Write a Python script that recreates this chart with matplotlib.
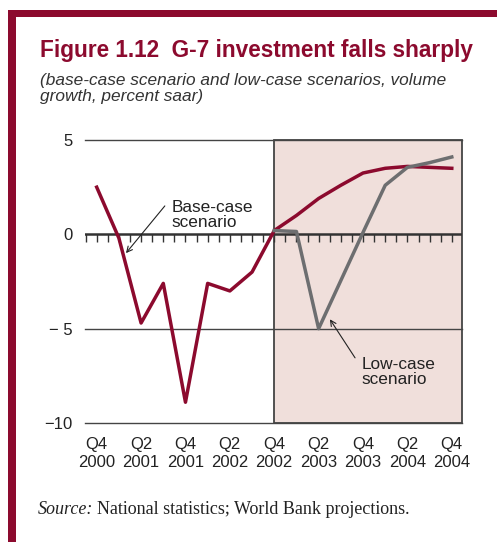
import matplotlib
matplotlib.use("Agg")
import matplotlib.pyplot as plt
from matplotlib.patches import Rectangle

# données (indice trimestriel, 0 = T4 2000)
quarters = list(range(17))
base_case = [2.5, -0.2, -4.7, -2.6, -8.9, -2.6, -3.0, -2.0, 0.2,
             1.0, 1.9, 2.6, 3.25, 3.5, 3.6, 3.55, 3.5]
low_quarters = list(range(8, 17))
low_case = [0.2, 0.15, -5.0, -2.45, 0.1, 2.6, 3.55, 3.8, 4.1]
tick_labels = ["Q4\n2000", "Q2\n2001", "Q4\n2001", "Q2\n2002", "Q4\n2002",
               "Q2\n2003", "Q4\n2003", "Q2\n2004", "Q4\n2004"]
yticks = [5, 0, -5, -10]

rouge = "#8c0a2e"
gris = "#6d6e70"
fond = "#f0dfdb"
W, H = 497, 542

plt.rcParams['font.family'] = ['Liberation Sans', 'DejaVu Sans']

fig = plt.figure(figsize=(W / 100, H / 100), dpi=100)

# cadre rouge (haut et gauche)
fig.add_artist(Rectangle((8 / W, 0), 8 / W, (H - 10) / H, transform=fig.transFigure,
                         color=rouge, lw=0))
fig.add_artist(Rectangle((8 / W, (H - 17) / H), (W - 8) / W, 7 / H,
                         transform=fig.transFigure, color=rouge, lw=0))

# titres
fig.text(40 / W, 1 - 57 / H, "Figure 1.12  G-7 investment falls sharply",
         fontsize=16.3, fontweight="bold", color=rouge, va="baseline")
fig.text(40 / W, 1 - 73 / H,
         "(base-case scenario and low-case scenarios, volume\ngrowth, percent saar)",
         fontsize=12.4, style="italic", color="#333333", va="top", linespacing=1.1)

ax = fig.add_axes([85 / W, (H - 423) / H, 377 / W, 283 / H])
xmin, xmax = -0.527, 16.46
ax.set_xlim(xmin, xmax)
ax.set_ylim(-10, 5)

# zone de projection
ax.add_patch(Rectangle((8, -10), xmax - 8, 15, facecolor=fond, edgecolor="#444444",
                       lw=1.3, zorder=0, clip_on=False))

for y in [5, -5, -10]:
    ax.axhline(y, color="#444444", lw=1.0, zorder=1, clip_on=False)
ax.axhline(0, color="#333333", lw=1.8, zorder=2)

# petites graduations sur la ligne zéro
graduations = [i / 2 for i in range(-1, 33)]
ax.vlines(graduations, -0.4, 0, color="#333333", lw=1.0, zorder=2)

ax.plot(quarters, base_case, color=rouge, lw=2.5, zorder=3, solid_joinstyle="round")
ax.plot(low_quarters, low_case, color=gris, lw=2.5, zorder=4, solid_joinstyle="round")

for s in ax.spines.values():
    s.set_visible(False)

ax.set_xticks(range(0, 17, 2))
ax.set_xticklabels(tick_labels, fontsize=12, color="#222222", linespacing=1.25)
ax.set_yticks(yticks)
ax.set_yticklabels(["5", "0", "\u2212 5", "\u221210"], fontsize=12, color="#222222")
ax.tick_params(axis="both", length=0)
ax.tick_params(axis="y", pad=9)
ax.tick_params(axis="x", pad=10)

# annotations
ax.text(3.38, 1.05, "Base-case\nscenario", fontsize=12.4, color="#222222",
        va="center", ha="left", linespacing=1.0)
ax.annotate("", xy=(1.24, -1.11), xytext=(3.15, 1.62),
            arrowprops=dict(arrowstyle="->", color="#222222", lw=0.8))
ax.text(11.93, -7.3, "Low-case\nscenario", fontsize=12.4, color="#222222",
        va="center", ha="left", linespacing=1.0)
ax.annotate("", xy=(10.44, -4.38), xytext=(11.71, -6.67),
            arrowprops=dict(arrowstyle="->", color="#222222", lw=0.8))

# source
t = fig.text(38 / W, 1 - 514 / H, "Source:", family="Liberation Serif", style="italic",
             fontsize=13, color="#222222", va="baseline")
fig.canvas.draw()
bb = t.get_window_extent()
fig.text((bb.x1 + 4) / W, 1 - 514 / H, "National statistics; World Bank projections.",
         family="Liberation Serif", fontsize=13, color="#222222", va="baseline")

fig.savefig("out.png", dpi=100)
